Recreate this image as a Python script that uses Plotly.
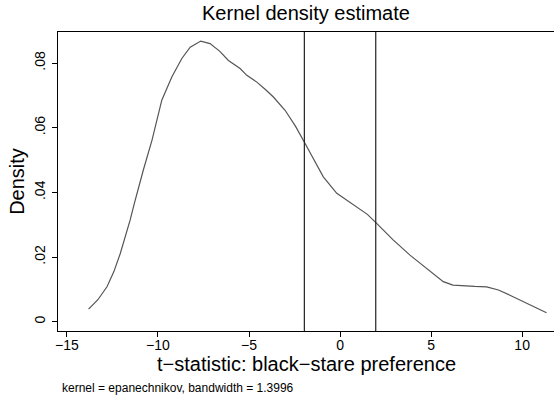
import plotly.graph_objects as go

# Kernel density estimate of t-statistics (epanechnikov kernel)
t_stat = [-13.81, -13.3, -12.80, -12.42, -12.07, -11.80, -11.53, -11.30, -11.07, -10.80,
          -10.33, -9.79, -9.24, -8.69, -8.23, -7.65, -7.14, -6.60, -6.13, -5.49,
          -5.12, -4.57, -4.10, -3.66, -3.02, -2.45, -1.92, -1.40, -0.92, -0.18,
          0.40, 0.92, 1.50, 2.01, 2.90, 3.84, 4.80, 5.67, 6.20, 6.77,
          7.40, 8.05, 8.70, 9.33, 10.30, 11.34]
density = [0.0039, 0.0068, 0.0108, 0.0155, 0.0211, 0.0260, 0.0314, 0.0365, 0.0417, 0.0470,
           0.0561, 0.0685, 0.0757, 0.0814, 0.0849, 0.0868, 0.0860, 0.0836, 0.0808, 0.0783,
           0.0762, 0.0741, 0.0718, 0.0695, 0.0654, 0.0605, 0.0551, 0.0497, 0.0448, 0.0397,
           0.0375, 0.0355, 0.0332, 0.0304, 0.0254, 0.0206, 0.0162, 0.0124, 0.0113, 0.0110,
           0.0109, 0.0108, 0.0098, 0.0082, 0.0056, 0.0028]

# critical values marked with reference lines
critical = [-1.96, 1.96]

x_ticks = [-15, -10, -5, 0, 5, 10]
x_tick_text = ["\u221215", "\u221210", "\u22125", "0", "5", "10"]
y_ticks = [0, 0.02, 0.04, 0.06, 0.08]
y_tick_text = ["0", ".02", ".04", ".06", ".08"]

FONT = "Liberation Sans, Arial, sans-serif"

fig = go.Figure()
fig.add_trace(go.Scatter(
    x=t_stat, y=density, mode="lines",
    line=dict(color="#555555", width=1.2),
    hoverinfo="skip", showlegend=False,
))

for c in critical:
    fig.add_shape(type="line", xref="x", yref="paper", x0=c, x1=c, y0=0, y1=1,
                  line=dict(color="#222222", width=1.2))

fig.update_layout(
    width=554, height=398,
    margin=dict(l=58, r=0, t=32, b=67),
    paper_bgcolor="white", plot_bgcolor="white",
    font=dict(family=FONT, color="black"),
    title=dict(text="Kernel density estimate", x=0.5523, xanchor="center",
               y=0.968, yanchor="middle", font=dict(size=20, family=FONT)),
    xaxis=dict(
        range=[-15.49, 11.75], tickvals=x_ticks, ticktext=x_tick_text,
        ticks="outside", ticklen=5, tickcolor="black", tickwidth=1,
        showline=True, linecolor="black", linewidth=1.2, mirror=True,
        showgrid=False, zeroline=False, ticklabelstandoff=-4,
        tickfont=dict(size=14, family=FONT),
    ),
    yaxis=dict(
        range=[-0.00287, 0.0896], tickvals=y_ticks, ticktext=y_tick_text,
        ticks="outside", ticklen=5, tickcolor="black", tickwidth=1,
        tickangle=-90, ticklabelstandoff=1,
        showline=True, linecolor="black", linewidth=1.2,
        showgrid=False, zeroline=False,
        tickfont=dict(size=14, family=FONT),
        title=dict(text="Density", font=dict(size=20, family=FONT), standoff=2),
    ),
)

# x-axis title placed as an annotation for finer vertical control
fig.add_annotation(
    text="t\u2212statistic: black\u2212stare preference",
    xref="paper", yref="paper", x=0.5, y=-0.11,
    xanchor="center", yanchor="middle", showarrow=False,
    font=dict(size=20, family=FONT, color="black"),
)

fig.add_annotation(
    text="kernel = epanechnikov, bandwidth = 1.3996",
    xref="paper", yref="paper", x=0.0035, y=-0.19,
    xanchor="left", yanchor="middle", showarrow=False,
    font=dict(size=12, family=FONT, color="black"),
)

fig.write_html("out.html")
